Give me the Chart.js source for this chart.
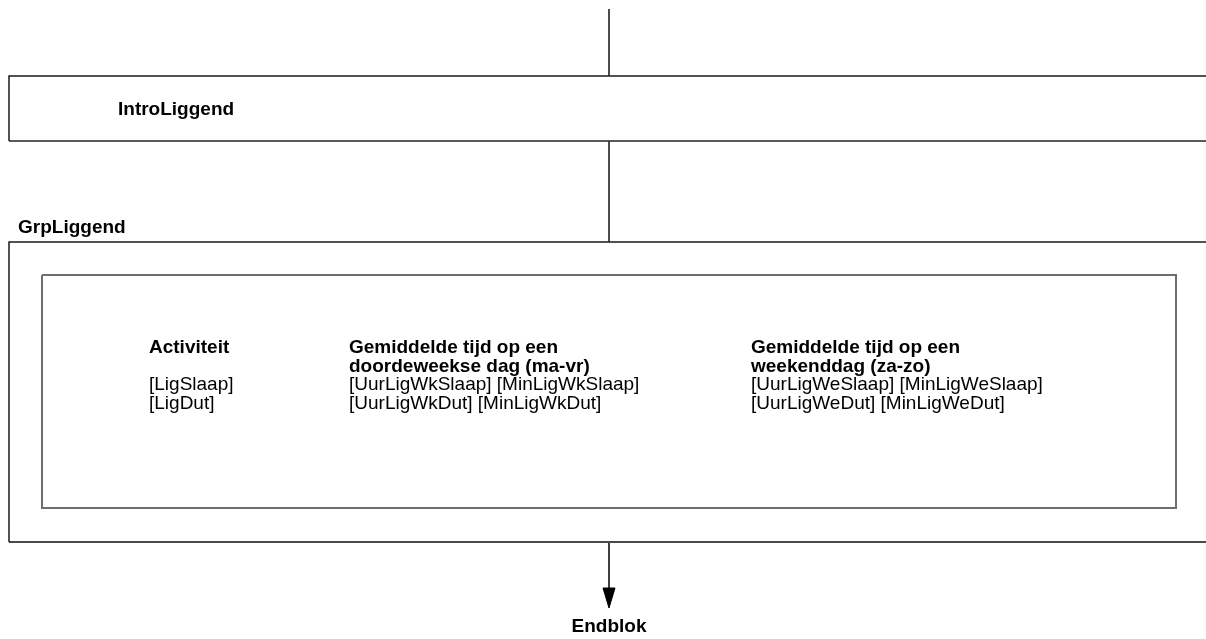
<!DOCTYPE html>
<html>
<head>
<meta charset="utf-8">
<title>GrpLiggend</title>
<script src="https://cdn.jsdelivr.net/npm/chart.js@4/dist/chart.umd.min.js"></script>
<style>
  html, body { margin: 0; padding: 0; background: #fff; }
  #wrap { width: 1206px; height: 639px; }
</style>
</head>
<body>
<div id="wrap"><canvas id="flow" width="1206" height="639"></canvas></div>
<script>
// texts of the flow blocks
const introLabel = 'IntroLiggend';
const groupLabel = 'GrpLiggend';
const endLabel = 'Endblok';
const columnHeaders = [
    ['Activiteit'],
    ['Gemiddelde tijd op een', 'doordeweekse dag (ma-vr)'],
    ['Gemiddelde tijd op een', 'weekenddag (za-zo)']
];
const activities = ['[LigSlaap]', '[LigDut]'];
const weekdayTimes = ['[UurLigWkSlaap] [MinLigWkSlaap]', '[UurLigWkDut] [MinLigWkDut]'];
const weekendTimes = ['[UurLigWeSlaap] [MinLigWeSlaap]', '[UurLigWeDut] [MinLigWeDut]'];

// layout (diagram units == page pixels)
const W = 1206, H = 639;
const flowX = 609;
const off = W + 6;          // boxes run past the right edge
const intro = {left: 9, top: 76, bottom: 141};
const group = {left: 9, top: 242, bottom: 542};
const inner = {left: 42, right: 1176, top: 275, bottom: 508};
const colX = [149, 349, 751];
const rowY = [353, 371.5, 390, 408.5];

const FONT = '"Liberation Sans", Arial, Helvetica, sans-serif';
const SIZE = 19;

function seg(points, color, width, extra) {
    return Object.assign({
        data: points.map(p => ({x: p[0], y: p[1]})),
        borderColor: color,
        borderWidth: width,
        pointRadius: 0,
        fill: false,
        tension: 0
    }, extra || {});
}

const datasets = [
    seg([[flowX, 9], [flowX, intro.top]], '#333', 1),
    seg([[flowX, intro.bottom], [flowX, group.top]], '#333', 1),
    seg([[off, intro.top], [intro.left, intro.top], [intro.left, intro.bottom]], '#1a1a1a', 1.5),
    seg([[intro.left, intro.bottom], [off, intro.bottom]], '#5a5a5a', 2),
    seg([[off, group.top], [group.left, group.top], [group.left, group.bottom]], '#1a1a1a', 1.5),
    seg([[group.left, group.bottom], [off, group.bottom]], '#4a4a4a', 2),
    seg([[inner.left, inner.top], [inner.right, inner.top], [inner.right, inner.bottom],
         [inner.left, inner.bottom], [inner.left, inner.top]], '#6e6e6e', 2),
    seg([[flowX, group.bottom], [flowX, 592]], '#000', 1.5),
    seg([[flowX - 6, 588], [flowX + 6, 588], [flowX, 608], [flowX - 6, 588]], '#000', 1,
        {fill: 'shape', backgroundColor: '#000'})
];

const textPlugin = {
    id: 'flowText',
    afterDatasetsDraw(chart) {
        const c = chart.ctx;
        const xs = chart.scales.x, ys = chart.scales.y;
        const put = (txt, x, y, bold, align) => {
            c.font = (bold ? 'bold ' : '') + SIZE + 'px ' + FONT;
            c.textAlign = align || 'left';
            c.fillText(txt, xs.getPixelForValue(x), ys.getPixelForValue(y));
        };
        c.save();
        c.fillStyle = '#000';
        c.textBaseline = 'alphabetic';
        put(introLabel, 118, 115, true);
        put(groupLabel, 18, 233, true);
        columnHeaders.forEach((lines, i) => {
            lines.forEach((l, j) => put(l, colX[i], rowY[j], true));
        });
        [activities, weekdayTimes, weekendTimes].forEach((col, i) => {
            col.forEach((t, j) => put(t, colX[i], rowY[2 + j], false));
        });
        put(endLabel, flowX, 632, true, 'center');
        c.restore();
    }
};

new Chart(document.getElementById('flow'), {
    type: 'line',
    data: {datasets: datasets},
    plugins: [textPlugin],
    options: {
        responsive: false,
        animation: false,
        layout: {padding: 0},
        plugins: {legend: {display: false}, tooltip: {enabled: false}},
        scales: {
            x: {type: 'linear', min: 0, max: W, display: false},
            y: {type: 'linear', min: 0, max: H, reverse: true, display: false}
        }
    }
});
</script>
</body>
</html>
